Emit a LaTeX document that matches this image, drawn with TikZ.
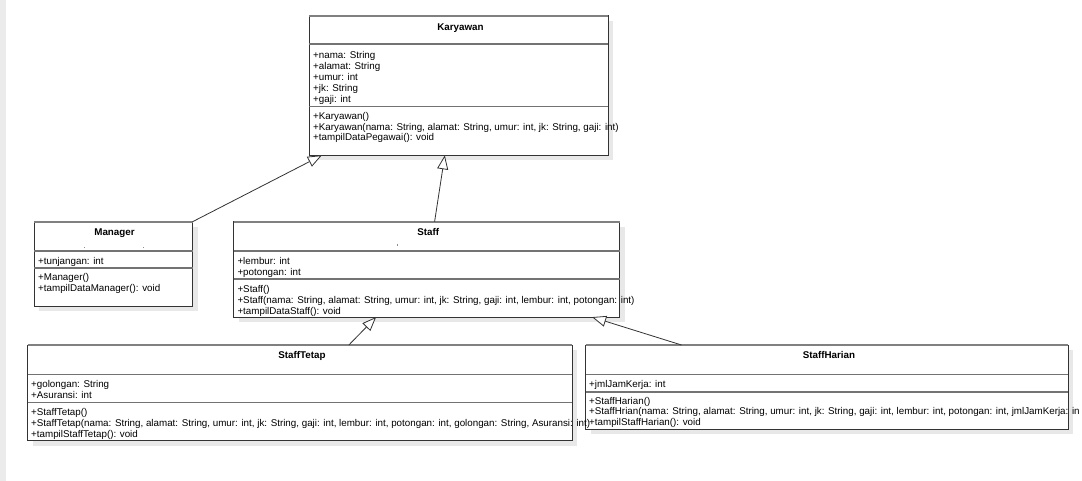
\documentclass[tikz,border=0pt]{standalone}
\usepackage{fontspec}
\setmainfont{Liberation Sans}
\usetikzlibrary{arrows.meta,shadows,calc}

\tikzset{
  classbox/.style={draw=black!80, line width=0.9pt, fill=white, rectangle,
    anchor=north west, inner sep=0pt, outer sep=0pt,
    drop shadow={shadow xshift=5pt, shadow yshift=-5pt, fill=black!9, opacity=1}},
  topedge/.style={draw=black!50, line width=1.8pt},
  sepline/.style={draw=black!55, line width=1.6pt},
  member/.style={anchor=base west, inner sep=0pt, font=\fontsize{9.8}{10.9}\selectfont},
  classname/.style={anchor=base, inner sep=0pt, font=\fontsize{9.8}{10.9}\selectfont\bfseries},
  inherit/.style={draw=black!80, line width=0.8pt,
    -{Triangle[open, length=14pt, width=11pt, fill=white]}},
  speck/.style={fill=black!45}
}

\begin{document}
\begin{tikzpicture}[x=1pt,y=-1pt]
\useasboundingbox (0,0) rectangle (1082,481);
\fill[white] (0,0) rectangle (1082,481);
\fill[black!8] (0,0) rectangle (6,481);

% class boxes
\node[classbox, minimum width=299pt, minimum height=139.6pt] (kar) at (309.3,15.7) {};
\node[classbox, minimum width=158.2pt, minimum height=84.3pt] (mgr) at (34.4,221.7) {};
\node[classbox, minimum width=386pt, minimum height=95.4pt] (stf) at (233.6,221.7) {};
\node[classbox, minimum width=544.5pt, minimum height=95.6pt] (tet) at (27.6,345) {};
\node[classbox, minimum width=482.6pt, minimum height=84.3pt] (har) at (585.5,345) {};

% top edges
\foreach \c in {kar,mgr,stf,tet,har}
  \draw[topedge] (\c.north west) -- (\c.north east);

% compartment separators
\draw[sepline] (kar.west |- 0,44.3) -- (kar.east |- 0,44.3);
\draw[sepline] (kar.west |- 0,106.7) -- (kar.east |- 0,106.7);
\draw[sepline] (mgr.west |- 0,251) -- (mgr.east |- 0,251);
\draw[sepline] (mgr.west |- 0,268.3) -- (mgr.east |- 0,268.3);
\draw[sepline] (stf.west |- 0,251) -- (stf.east |- 0,251);
\draw[sepline] (stf.west |- 0,279.2) -- (stf.east |- 0,279.2);
\draw[sepline] (tet.west |- 0,374.3) -- (tet.east |- 0,374.3);
\draw[sepline] (tet.west |- 0,402.5) -- (tet.east |- 0,402.5);
\draw[sepline] (har.west |- 0,374.3) -- (har.east |- 0,374.3);
\draw[sepline] (har.west |- 0,391.7) -- (har.east |- 0,391.7);

% faint specks in the name compartments
\fill[speck] (84,247) rectangle ++(1.2,1.2);
\fill[speck] (142.5,247) rectangle ++(1.2,1.2);
\fill[speck] (397,244.5) rectangle ++(0.9,1.6);

% Karyawan
\node[classname] (karN) at (460.5,30.6) {Karyawan};
\node[member] (karA1) at (313,58.5) {+nama: String};
\node[member] (karA2) at (313,69.4) {+alamat: String};
\node[member] (karA3) at (313,80.3) {+umur: int};
\node[member] (karA4) at (313,91.2) {+jk: String};
\node[member] (karA5) at (313,102.1) {+gaji: int};
\node[member] (karM1) at (313,119.2) {+Karyawan()};
\node[member] (karM2) at (313,130.1) {+Karyawan(nama: String, alamat: String, umur: int, jk: String, gaji: int)};
\node[member] (karM3) at (313,141) {+tampilDataPegawai(): void};

% Manager
\node[classname] (mgrN) at (114.5,235.5) {Manager};
\node[member] (mgrA1) at (38,264.5) {+tunjangan: int};
\node[member] (mgrM1) at (38,280.8) {+Manager()};
\node[member] (mgrM2) at (38,291.7) {+tampilDataManager(): void};

% Staff
\node[classname] (stfN) at (428.3,235.5) {Staff};
\node[member] (stfA1) at (237.3,264.5) {+lembur: int};
\node[member] (stfA2) at (237.3,275.4) {+potongan: int};
\node[member] (stfM1) at (237.3,292.2) {+Staff()};
\node[member] (stfM2) at (237.3,303.1) {+Staff(nama: String, alamat: String, umur: int, jk: String, gaji: int, lembur: int, potongan: int)};
\node[member] (stfM3) at (237.3,314) {+tampilDataStaff(): void};

% StaffTetap
\node[classname] (tetN) at (302,358.5) {StaffTetap};
\node[member] (tetA1) at (31,387.8) {+golongan: String};
\node[member] (tetA2) at (31,398.7) {+Asuransi: int};
\node[member] (tetM1) at (31,415.8) {+StaffTetap()};
\node[member] (tetM2) at (31,426.7) {+StaffTetap(nama: String, alamat: String, umur: int, jk: String, gaji: int, lembur: int, potongan: int, golongan: String, Asuransi: int)};
\node[member] (tetM3) at (31,437.6) {+tampilStaffTetap(): void};

% StaffHarian
\node[classname] (harN) at (829,358.5) {StaffHarian};
\node[member] (harA1) at (589,387.8) {+jmlJamKerja: int};
\node[member] (harM1) at (589,404) {+StaffHarian()};
\node[member] (harM2) at (589,414.9) {+StaffHrian(nama: String, alamat: String, umur: int, jk: String, gaji: int, lembur: int, potongan: int, jmlJamKerja: in};
\node[member] (harM3) at (589,425.8) {+tampilStaffHarian(): void};

% generalisation arrows
\draw[inherit] (mgr.north east) -- ($(kar.south west)+(12.5,0)$);
\draw[inherit] ($(stf.north)+(8,0)$) -- ($(kar.south)+(-14,0)$);
\draw[inherit] ($(tet.north)+(49,0)$) -- ($(stf.south west)+(142.5,0)$);
\draw[inherit] ($(har.north west)+(96,0)$) -- ($(stf.south east)+(-27.5,0)$);
\end{tikzpicture}
\end{document}
